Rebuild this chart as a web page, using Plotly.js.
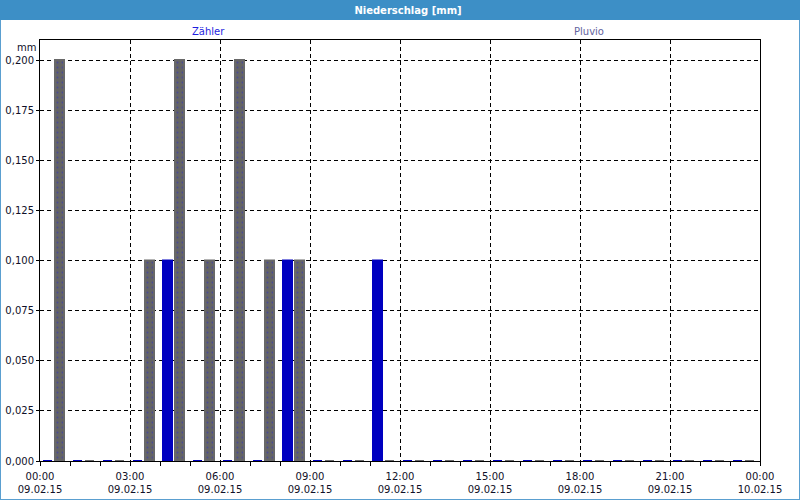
<!DOCTYPE html>
<html>
<head>
<meta charset="utf-8">
<script src="https://cdn.plot.ly/plotly-3.0.1.min.js"></script>
<style>
  html, body { margin: 0; padding: 0; background: #ffffff; }
  #wrap { position: relative; width: 800px; height: 500px; overflow: hidden; }
  #frame { position: absolute; left: 0; top: 0; width: 800px; height: 500px; box-sizing: border-box;
           border: 1px solid #5a9fd0; background: #ffffff; }
  #band { position: absolute; left: 0; top: 0; width: 800px; height: 20px; background: #3d8fc6; }
  #chart { position: absolute; left: 0; top: 0; width: 800px; height: 500px; }
</style>
</head>
<body>
<div id="wrap">
  <div id="frame"></div>
  <div id="band"></div>
  <div id="chart"></div>
</div>
<script>
// ---- data ----
const day = '2015-02-09';
const hours = ['00','01','02','03','04','05','06','07','08','09','10','11',
               '12','13','14','15','16','17','18','19','20','21','22','23'];
const zaehler = [0, 0, 0, 0, 0.1, 0, 0, 0, 0.1, 0, 0, 0.1,
                 0, 0, 0, 0, 0, 0, 0, 0, 0, 0, 0, 0];
const pluvio  = [0.2, 0, 0, 0.1, 0.2, 0.1, 0.2, 0.1, 0.1, 0, 0, 0,
                 0, 0, 0, 0, 0, 0, 0, 0, 0, 0, 0, 0];
const seriesNames = ['Zähler', 'Pluvio'];

// each hourly bar group sits inside its hour
const xs = hours.map(h => day + ' ' + h + ':27');

const fontFam = '"DejaVu Sans", Verdana, sans-serif';
const txtCol = '#101028';

const traces = [
  {
    type: 'bar', name: seriesNames[0], x: xs, y: zaehler,
    marker: { color: '#0000c0', line: { color: '#0000c0', width: 2 } },
    hoverinfo: 'skip'
  },
  {
    type: 'bar', name: seriesNames[1], x: xs, y: pluvio,
    marker: {
      color: '#646464',
      line: { color: '#686868', width: 2 },
      pattern: { shape: '.', fgcolor: '#4a4a96', bgcolor: '#646464', size: 5, solidity: 0.12 }
    },
    hoverinfo: 'skip'
  }
];

const layout = {
  width: 800, height: 500,
  margin: { l: 40, r: 40, t: 40, b: 39, pad: 0 },
  paper_bgcolor: 'rgba(0,0,0,0)',
  plot_bgcolor: '#ffffff',
  showlegend: false,
  separators: ',.',
  barmode: 'group',
  bargap: 0.2,
  bargroupgap: 0.25,
  font: { family: fontFam, size: 10, color: txtCol },
  title: {
    text: 'Niederschlag [mm]',
    font: { family: fontFam, size: 10, color: '#ffffff', weight: 'bold' },
    xref: 'container', yref: 'container',
    x: 0.51, xanchor: 'center', y: 0.98, yanchor: 'middle'
  },
  xaxis: {
    type: 'date',
    range: [day + ' 00:00', '2015-02-10 00:00'],
    tick0: day + ' 00:00',
    dtick: 3 * 3600000,
    tickformat: '%H:%M<br>%d.%m.%y',
    ticks: 'outside', ticklen: 4, tickcolor: '#000000', tickwidth: 1,
    ticklabelstandoff: 2,
    minor: { dtick: 3600000, ticks: 'outside', ticklen: 4, tickcolor: '#000000', showgrid: false },
    showgrid: true, gridcolor: '#000000', gridwidth: 1, griddash: '4px,3px',
    showline: true, linecolor: '#000000', linewidth: 1, mirror: true,
    zeroline: false,
    tickfont: { family: fontFam, size: 10, color: txtCol },
    fixedrange: true
  },
  yaxis: {
    range: [0, 0.21],
    tick0: 0, dtick: 0.025,
    tickformat: '.3f',
    ticks: 'outside', ticklen: 3, tickcolor: '#000000',
    showgrid: true, gridcolor: '#000000', gridwidth: 1, griddash: '4px,3px',
    showline: true, linecolor: '#000000', linewidth: 1, mirror: true,
    zeroline: false,
    tickfont: { family: fontFam, size: 10, color: txtCol },
    fixedrange: true
  },
  annotations: [
    { text: 'mm', xref: 'paper', yref: 'paper', x: 0, y: 1, xanchor: 'right', yanchor: 'middle',
      xshift: -2, yshift: -7, showarrow: false, font: { family: fontFam, size: 10, color: txtCol } },
    { text: seriesNames[0], xref: 'paper', yref: 'paper', x: (208.5 - 40) / 720, y: 1,
      xanchor: 'center', yanchor: 'middle', yshift: 8.5, showarrow: false,
      font: { family: fontFam, size: 10, color: '#1e1ee0' } },
    { text: seriesNames[1], xref: 'paper', yref: 'paper', x: (589 - 40) / 720, y: 1,
      xanchor: 'center', yanchor: 'middle', yshift: 8.5, showarrow: false,
      font: { family: fontFam, size: 10, color: '#6464a0' } }
  ]
};

Plotly.newPlot('chart', traces, layout, { displayModeBar: false, staticPlot: true });
</script>
</body>
</html>
